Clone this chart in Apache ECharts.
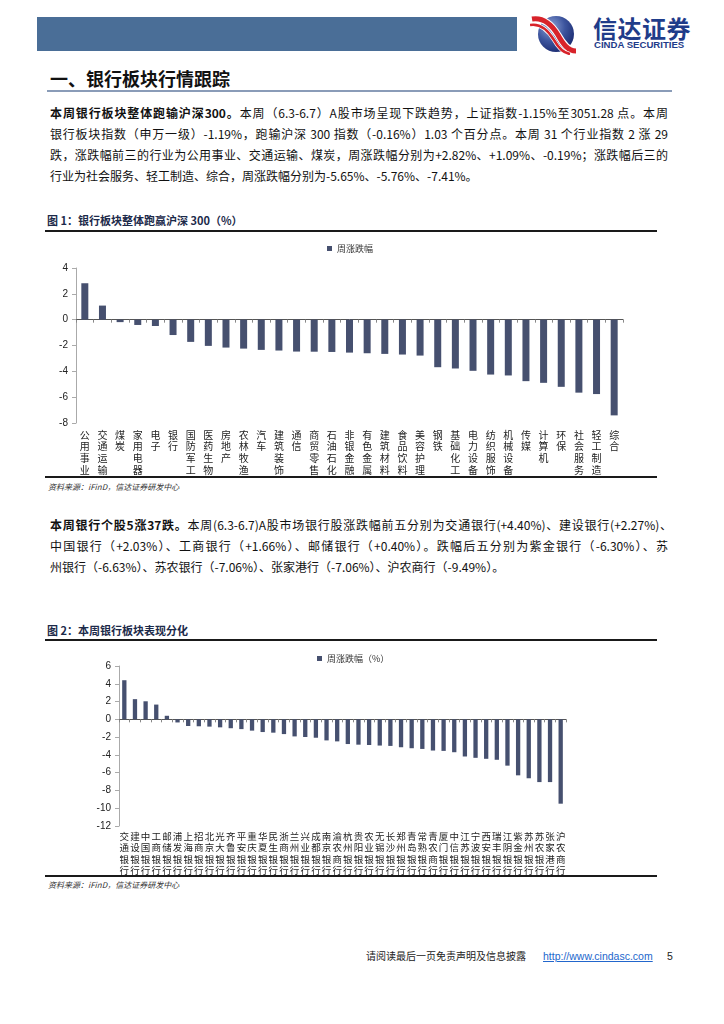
<!DOCTYPE html>
<html>
<head>
<meta charset="utf-8">
<script src="https://cdn.jsdelivr.net/npm/echarts@6/dist/echarts.min.js"></script>
<style>
  html, body { margin: 0; padding: 0; background: #fff; }
  body { width: 724px; height: 1024px; position: relative; overflow: hidden;
         font-family: "Noto Sans CJK SC", "Liberation Sans", sans-serif; color: #111; }
  .abs { position: absolute; }
  .para .ln { position: absolute; left: 50px; width: 618px; font-size: 12px; line-height: 14px;
              text-align: justify; text-align-last: justify; white-space: nowrap; }
  .para .ln.last { text-align-last: left; width: auto; }
  .figtitle { position: absolute; left: 47px; font-size: 11px; font-weight: 700; color: #1c2a4a; }
  .rule { position: absolute; left: 45px; width: 612px; height: 2px; background: #1a1a1a; }
  .src { position: absolute; left: 48px; font-size: 8px; font-style: italic; color: #333; }
</style>
</head>
<body>
<script>
const industries = ['公用事业','交通运输','煤炭','家用电器','电子','银行','国防军工','医药生物','房地产','农林牧渔','汽车','建筑装饰','通信','商贸零售','石油石化','非银金融','有色金属','建筑材料','食品饮料','美容护理','钢铁','基础化工','电力设备','纺织服饰','机械设备','传媒','计算机','环保','社会服务','轻工制造','综合'];
const industryChg = [2.82,1.09,-0.19,-0.41,-0.49,-1.19,-1.72,-2.03,-2.16,-2.24,-2.34,-2.39,-2.47,-2.48,-2.50,-2.55,-2.60,-2.65,-2.70,-2.78,-3.68,-3.78,-3.96,-4.25,-4.32,-4.76,-4.89,-5.20,-5.65,-5.76,-7.41];
const chart1Ticks = [-8,-6,-4,-2,0,2,4];

const banks = ['交通银行','建设银行','中国银行','工商银行','邮储银行','浦发银行','上海银行','招商银行','北京银行','光大银行','齐鲁银行','平安银行','重庆银行','华夏银行','民生银行','浙商银行','兰州银行','兴业银行','成都银行','南京银行','渝农商行','杭州银行','贵阳银行','农业银行','无锡银行','长沙银行','郑州银行','青岛银行','常熟银行','青农商行','厦门银行','中信银行','江苏银行','宁波银行','西安银行','瑞丰银行','江阴银行','紫金银行','苏州银行','苏农银行','张家港行','沪农商行'];
const bankChg = [4.40,2.27,2.03,1.66,0.40,-0.35,-0.75,-0.78,-0.82,-0.90,-1.00,-1.10,-1.27,-1.43,-1.50,-1.66,-1.92,-1.99,-2.07,-2.37,-2.48,-2.78,-2.85,-2.89,-2.95,-2.99,-3.14,-3.25,-3.33,-3.51,-3.55,-3.70,-4.18,-4.33,-4.44,-4.55,-5.21,-6.30,-6.63,-7.06,-7.06,-9.49];
const chart2Ticks = [-12,-10,-8,-6,-4,-2,0,2,4,6];
</script>

<!-- header -->
<div class="abs" style="left:37px;top:17px;width:480px;height:34px;background:#4a6e97;"></div>
<svg class="abs" style="left:530px;top:13px;" width="48" height="42" viewBox="0 0 48 42">
  <defs>
    <radialGradient id="lg" cx="0.35" cy="0.3" r="0.8">
      <stop offset="0" stop-color="#8fa3d6"/>
      <stop offset="0.5" stop-color="#3d559e"/>
      <stop offset="1" stop-color="#16256b"/>
    </radialGradient>
  </defs>
  <circle cx="26" cy="21" r="18" fill="url(#lg)"/>
  <path d="M2 6 C14 4 22 12 28 22 C33 31 38 38 46 38" stroke="#fff" stroke-width="7" fill="none"/>
  <path d="M2 6 C14 4 22 12 28 22 C33 31 38 38 46 38" stroke="#d8232a" stroke-width="5" fill="none"/>
  <path d="M0 12 C11 10 18 17 24 27 C28 34 33 40 40 41" stroke="#fff" stroke-width="4" fill="none"/>
  <path d="M0 12 C11 10 18 17 24 27 C28 34 33 40 40 41" stroke="#d8232a" stroke-width="2.5" fill="none"/>
</svg>
<div class="abs" style="left:593px;top:15px;font-size:24px;font-weight:700;color:#1f3c8a;letter-spacing:0.5px;line-height:26px;">信达证券</div>
<div class="abs" style="left:594px;top:39px;font-size:9.6px;font-weight:700;color:#1f3c8a;line-height:11px;font-family:'Liberation Sans',Arial,sans-serif;">CINDA SECURITIES</div>

<!-- section title -->
<div class="abs" style="left:50px;top:67px;font-size:18px;font-weight:700;line-height:22px;color:#111;">一、银行板块行情跟踪</div>
<div class="abs" style="left:47px;top:90px;width:625px;height:1.5px;background:#8a9cb8;"></div>

<!-- paragraph 1 -->
<div class="para">
  <div class="ln" style="top:106px;"><b>本周银行板块整体跑输沪深300。</b>本周（6.3-6.7）A股市场呈现下跌趋势，上证指数-1.15%至3051.28 点。本周</div>
  <div class="ln" style="top:127px;">银行板块指数（申万一级）-1.19%，跑输沪深 300 指数（-0.16%）1.03 个百分点。本周 31 个行业指数 2 涨 29</div>
  <div class="ln" style="top:148px;">跌，涨跌幅前三的行业为公用事业、交通运输、煤炭，周涨跌幅分别为+2.82%、+1.09%、-0.19%；涨跌幅后三的</div>
  <div class="ln last" style="top:169px;">行业为社会服务、轻工制造、综合，周涨跌幅分别为-5.65%、-5.76%、-7.41%。</div>
</div>

<!-- figure 1 -->
<div class="figtitle" style="top:212px;">图 1：银行板块整体跑赢沪深 300（%）</div>
<div class="rule" style="top:230px;"></div>
<div id="c1" class="abs" style="left:0;top:236px;width:724px;height:240px;"></div>
<div class="rule" style="top:476px;"></div>
<div class="src" style="top:481px;">资料来源：iFinD，信达证券研发中心</div>

<!-- paragraph 2 -->
<div class="para">
  <div class="ln" style="top:518px;width:622px;"><b>本周银行个股5涨37跌。</b>本周(6.3-6.7)A股市场银行股涨跌幅前五分别为交通银行(+4.40%)、建设银行(+2.27%)、</div>
  <div class="ln" style="top:539px;">中国银行（+2.03%）、工商银行（+1.66%）、邮储银行（+0.40%）。跌幅后五分别为紫金银行（-6.30%）、苏</div>
  <div class="ln last" style="top:560px;">州银行（-6.63%）、苏农银行（-7.06%）、张家港行（-7.06%）、沪农商行（-9.49%）。</div>
</div>

<!-- figure 2 -->
<div class="figtitle" style="top:622px;">图 2：本周银行板块表现分化</div>
<div class="rule" style="top:639px;"></div>
<div id="c2" class="abs" style="left:0;top:645px;width:724px;height:230px;"></div>
<div class="rule" style="top:875px;"></div>
<div class="src" style="top:879px;">资料来源：iFinD，信达证券研发中心</div>

<!-- footer -->
<div class="abs" style="left:366px;top:949px;font-size:10px;line-height:14px;color:#222;">请阅读最后一页免责声明及信息披露</div>
<div class="abs" style="left:543px;top:949px;font-size:10.5px;line-height:14px;color:#2266cc;text-decoration:underline;font-family:'Liberation Sans',Arial,sans-serif;">http://www.cindasc.com</div>
<div class="abs" style="left:667px;top:949px;font-size:10.5px;line-height:14px;color:#222;font-family:'Liberation Sans',Arial,sans-serif;">5</div>

<script>
const BAR = '#46506f';
function vert(s) { return s.split('').join('\n'); }

const c1 = echarts.init(document.getElementById('c1'), null, {renderer: 'canvas'});
c1.setOption({
  animation: false,
  legend: {
    data: ['周涨跌幅'], left: 322, top: 3, itemWidth: 5, itemHeight: 5, itemGap: 4,
    icon: 'rect', textStyle: {fontSize: 9, color: '#333', fontFamily: 'Noto Sans CJK SC'}
  },
  grid: {left: 76, right: 101, top: 32, height: 155, containLabel: false, outerBoundsMode: 'none'},
  xAxis: {
    type: 'category', data: industries,
    axisLine: {onZero: true, lineStyle: {color: '#555', width: 1}},
    axisTick: {show: true, interval: 0, length: 3, lineStyle: {color: '#888'}},
    axisLabel: {interval: 0, margin: 6, formatter: vert, fontSize: 10, lineHeight: 11.7,
                color: '#222', verticalAlign: 'top', fontFamily: 'Noto Sans CJK SC'}
  },
  yAxis: {
    type: 'value', min: chart1Ticks[0], max: chart1Ticks[chart1Ticks.length - 1], interval: 2,
    splitLine: {show: false},
    axisLine: {show: true, lineStyle: {color: '#aaa'}},
    axisTick: {show: true, length: 4, lineStyle: {color: '#aaa'}},
    axisLabel: {fontSize: 10, color: '#222', margin: 8, fontFamily: 'Liberation Sans'}
  },
  series: [{
    name: '周涨跌幅', type: 'bar', data: industryChg, barWidth: 7,
    itemStyle: {color: BAR}
  }]
});

const c2 = echarts.init(document.getElementById('c2'), null, {renderer: 'canvas'});
c2.setOption({
  animation: false,
  legend: {
    data: ['周涨跌幅（%）'], left: 312, top: 4, itemWidth: 5, itemHeight: 5, itemGap: 4,
    icon: 'rect', textStyle: {fontSize: 9, color: '#333', fontFamily: 'Noto Sans CJK SC'}
  },
  grid: {left: 119, right: 158, top: 21, height: 160, containLabel: false, outerBoundsMode: 'none'},
  xAxis: {
    type: 'category', data: banks,
    axisLine: {onZero: true, lineStyle: {color: '#555', width: 1}},
    axisTick: {show: true, interval: 0, length: 3, lineStyle: {color: '#888'}},
    axisLabel: {interval: 0, margin: 5, formatter: vert, fontSize: 9.5, lineHeight: 11.2,
                color: '#222', verticalAlign: 'top', fontFamily: 'Noto Sans CJK SC'}
  },
  yAxis: {
    type: 'value', min: chart2Ticks[0], max: chart2Ticks[chart2Ticks.length - 1], interval: 2,
    splitLine: {show: false},
    axisLine: {show: true, lineStyle: {color: '#aaa'}},
    axisTick: {show: true, length: 4, lineStyle: {color: '#aaa'}},
    axisLabel: {fontSize: 10, color: '#222', margin: 8, fontFamily: 'Liberation Sans'}
  },
  series: [{
    name: '周涨跌幅（%）', type: 'bar', data: bankChg, barWidth: 4.3,
    itemStyle: {color: BAR}
  }]
});
</script>
</body>
</html>
